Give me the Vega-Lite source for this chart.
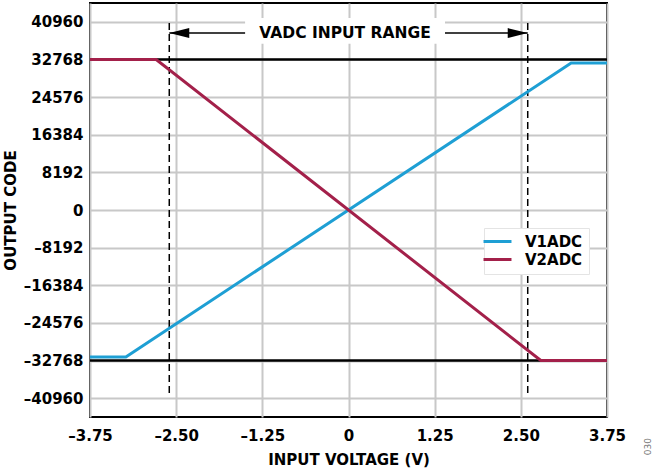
{
  "$schema": "https://vega.github.io/schema/vega-lite/v6.json",
  "width": 517,
  "height": 414,
  "autosize": {"type": "none"},
  "padding": {"left": 90, "top": 3, "right": 45, "bottom": 52},
  "background": "white",
  "title": {"text": "030", "orient": "right", "anchor": "end", "frame": "group", "angle": -90, "baseline": "top", "fontSize": 9, "fontWeight": "normal", "font": "DejaVu Sans", "color": "#777777", "offset": 9, "dx": -21},
  "config": {
    "view": {"stroke": "#000000", "strokeWidth": 2},
    "axis": {
      "labelFont": "DejaVu Sans", "labelFontWeight": "bold", "labelFontSize": 15, "labelColor": "#000000",
      "titleFont": "DejaVu Sans", "titleFontWeight": "bold", "titleFontSize": 15, "titleColor": "#000000",
      "domain": false, "ticks": false, "grid": true, "gridColor": "#c8c8c8", "gridWidth": 2
    }
  },
  "datasets": {
    "curves": [
      {"series": "V1ADC", "x": -3.75, "y": -32000},
      {"series": "V1ADC", "x": -3.23, "y": -32000},
      {"series": "V1ADC", "x": 3.23, "y": 32000},
      {"series": "V1ADC", "x": 3.75, "y": 32000},
      {"series": "V2ADC", "x": -3.75, "y": 32768},
      {"series": "V2ADC", "x": -2.79, "y": 32768},
      {"series": "V2ADC", "x": 2.79, "y": -32768},
      {"series": "V2ADC", "x": 3.75, "y": -32768}
    ],
    "hlines": [{"y": 32768}, {"y": -32768}],
    "vlines": [{"x": -2.6, "y": 40700, "y2": -39900}, {"x": 2.6, "y": 40700, "y2": -39900}],
    "arrow": [{"x": -2.6, "x2": 2.6, "y": 38500}],
    "box": [{"x": -1.5, "x2": 1.4, "y": 41800, "y2": 36200, "xc": -0.05, "yc": 38500, "label": "VADC INPUT RANGE"}],
    "heads": [{"x": -2.6, "y": 38500, "dir": "L"}, {"x": 2.6, "y": 38500, "dir": "R"}]
  },
  "layer": [
    {
      "data": {"name": "hlines"},
      "mark": {"type": "rule", "color": "#000000", "strokeWidth": 2.5},
      "encoding": {
        "y": {"field": "y", "type": "quantitative", "scale": {"domain": [-45056, 45056], "nice": false, "zero": false}, "title": "OUTPUT CODE"}
      }
    },
    {
      "data": {"name": "vlines"},
      "mark": {"type": "rule", "color": "#000000", "strokeWidth": 1.5, "strokeDash": [7, 4]},
      "encoding": {
        "x": {"field": "x", "type": "quantitative", "title": "INPUT VOLTAGE (V)"},
        "y": {"field": "y", "type": "quantitative", "title": "OUTPUT CODE"},
        "y2": {"field": "y2"}
      }
    },
    {
      "data": {"name": "curves"},
      "mark": {"type": "line", "strokeWidth": 3},
      "encoding": {
        "x": {
          "field": "x", "type": "quantitative",
          "scale": {"domain": [-3.75, 3.75], "nice": false, "zero": false},
          "title": "INPUT VOLTAGE (V)",
          "axis": {
            "values": [-3.75, -2.5, -1.25, 0, 1.25, 2.5, 3.75],
            "labelExpr": "datum.value < 0 ? '–' + format(-datum.value, '.2f') : (datum.value == 0 ? '0' : format(datum.value, '.2f'))",
            "labelPadding": 11, "titlePadding": 9, "labelFlush": false
          }
        },
        "y": {
          "field": "y", "type": "quantitative",
          "scale": {"domain": [-45056, 45056], "nice": false, "zero": false},
          "title": "OUTPUT CODE",
          "axis": {
            "values": [-40960, -32768, -24576, -16384, -8192, 0, 8192, 16384, 24576, 32768, 40960],
            "labelExpr": "datum.value < 0 ? '–' + format(-datum.value, 'd') : format(datum.value, 'd')",
            "labelPadding": 7, "titlePadding": 5
          }
        },
        "color": {
          "field": "series", "type": "nominal",
          "scale": {"domain": ["V1ADC", "V2ADC"], "range": ["#1e9fd4", "#a3204a"]},
          "legend": {
            "title": null, "orient": "none", "legendX": 394, "legendY": 225,
            "fillColor": "#ffffff", "strokeColor": "#e4e4e4", "padding": 6,
            "labelFont": "DejaVu Sans", "labelFontWeight": "bold", "labelFontSize": 15, "labelColor": "#000000",
            "symbolType": "M-2.33,0L2.33,0", "symbolStrokeWidth": 3, "symbolSize": 144, "labelOffset": 20, "rowPadding": 2
          }
        },
        "order": {"field": "x", "type": "quantitative"}
      }
    },
    {
      "data": {"name": "arrow"},
      "mark": {"type": "rule", "color": "#000000", "strokeWidth": 1.5},
      "encoding": {
        "x": {"field": "x", "type": "quantitative"},
        "x2": {"field": "x2"},
        "y": {"field": "y", "type": "quantitative"}
      }
    },
    {
      "data": {"name": "box"},
      "mark": {"type": "rect", "fill": "#ffffff"},
      "encoding": {
        "x": {"field": "x", "type": "quantitative"},
        "x2": {"field": "x2"},
        "y": {"field": "y", "type": "quantitative"},
        "y2": {"field": "y2"}
      }
    },
    {
      "data": {"name": "box"},
      "mark": {"type": "text", "font": "DejaVu Sans", "fontWeight": "bold", "fontSize": 15.5, "color": "#000000", "baseline": "middle", "align": "center"},
      "encoding": {
        "x": {"field": "xc", "type": "quantitative"},
        "y": {"field": "yc", "type": "quantitative"},
        "text": {"field": "label"}
      }
    },
    {
      "data": {"name": "heads"},
      "mark": {"type": "point", "filled": true, "color": "#000000", "opacity": 1, "size": 400, "strokeWidth": 0},
      "encoding": {
        "x": {"field": "x", "type": "quantitative"},
        "y": {"field": "y", "type": "quantitative"},
        "shape": {
          "field": "dir", "type": "nominal",
          "scale": {"domain": ["L", "R"], "range": ["M0,0L2,-0.5L2,0.5Z", "M0,0L-2,-0.5L-2,0.5Z"]},
          "legend": null
        }
      }
    }
  ]
}
